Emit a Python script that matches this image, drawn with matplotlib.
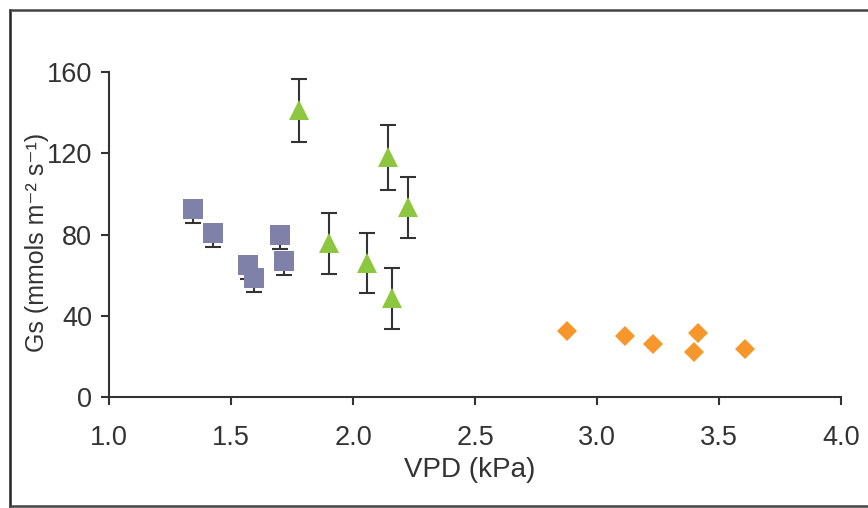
import numpy as np
import matplotlib
matplotlib.use('Agg')
import matplotlib.pyplot as plt
from matplotlib.lines import Line2D

plt.rcParams['font.family'] = ['Liberation Sans', 'DejaVu Sans']

# squares
sq_x = [1.344, 1.426, 1.57, 1.594, 1.70, 1.717]
sq_y = [92.6, 80.7, 65.0, 58.6, 79.8, 67.0]
sq_err = [7, 7, 7, 7, 7, 7]

# triangles
tri_x = [1.779, 1.90, 2.057, 2.143, 2.225, 2.16]
tri_y = [141.3, 75.8, 66.0, 118.0, 93.5, 48.7]
tri_err = [15.5, 15, 15, 16, 15, 15]

# diamonds
dia_x = [2.877, 3.115, 3.23, 3.414, 3.397, 3.607]
dia_y = [32.5, 30.0, 26.0, 31.5, 22.0, 23.6]

xticks = [1.0, 1.5, 2.0, 2.5, 3.0, 3.5, 4.0]
yticks = [0, 40, 80, 120, 160]

dark = '#333333'

fig = plt.figure(figsize=(8.68, 5.08), dpi=100)
ax = fig.add_axes([0.1256, 0.2185, 0.969 - 0.1256, 0.858 - 0.2185])

# squares: only the lower error bar shows
ax.errorbar(sq_x, sq_y, yerr=[sq_err, [0] * len(sq_err)], fmt='none', ecolor=dark,
            elinewidth=1.5, capsize=5.5, capthick=1.5, zorder=2)
ax.plot(sq_x, sq_y, 's', color='#8081A8', markersize=14.5, markeredgewidth=0, zorder=3)

ax.errorbar(tri_x, tri_y, yerr=tri_err, fmt='none', ecolor=dark, elinewidth=1.5,
            capsize=5.5, capthick=1.5, zorder=2)
ax.plot(tri_x, tri_y, '^', color='#8DC63F', markersize=14, markeredgewidth=0, zorder=3)

ax.plot(dia_x, dia_y, 'D', color='#F7962A', markersize=10.5, markeredgewidth=0, zorder=3)

ax.set_xlim(1.0, 4.0)
ax.set_ylim(0, 160)
ax.set_xticks(xticks)
ax.set_xticklabels([f'{v:.1f}' for v in xticks])
ax.set_yticks(yticks)

for s in ['top', 'right']:
    ax.spines[s].set_visible(False)
for s in ['left', 'bottom']:
    ax.spines[s].set_color(dark)
    ax.spines[s].set_linewidth(1.5)
ax.tick_params(colors=dark, labelsize=19.5, width=1.5, length=6, pad=6)
ax.tick_params(axis='x', pad=14)

ax.set_xlabel('VPD (kPa)', fontsize=20, color=dark)
ax.xaxis.label.set_va('center')
ax.xaxis.set_label_coords(0.492, -0.225)

ax.set_ylabel('Gs (mmols m\u207b\u00b2 s\u207b\u00b9)', fontsize=18, color=dark)
ax.yaxis.label.set_va('center')
ax.yaxis.set_label_coords(-0.099, 0.475)

# outer frame
fig.add_artist(Line2D([10 / 868, 10 / 868], [1 - 10 / 508, 1 - 506 / 508],
                      transform=fig.transFigure, color='#222222', lw=1.8))
fig.add_artist(Line2D([10 / 868, 1.0], [1 - 10 / 508, 1 - 10 / 508],
                      transform=fig.transFigure, color='#444444', lw=1.8))
fig.add_artist(Line2D([10 / 868, 1.0], [1 - 506 / 508, 1 - 506 / 508],
                      transform=fig.transFigure, color='#444444', lw=1.8))

fig.savefig('out.png', dpi=100)
